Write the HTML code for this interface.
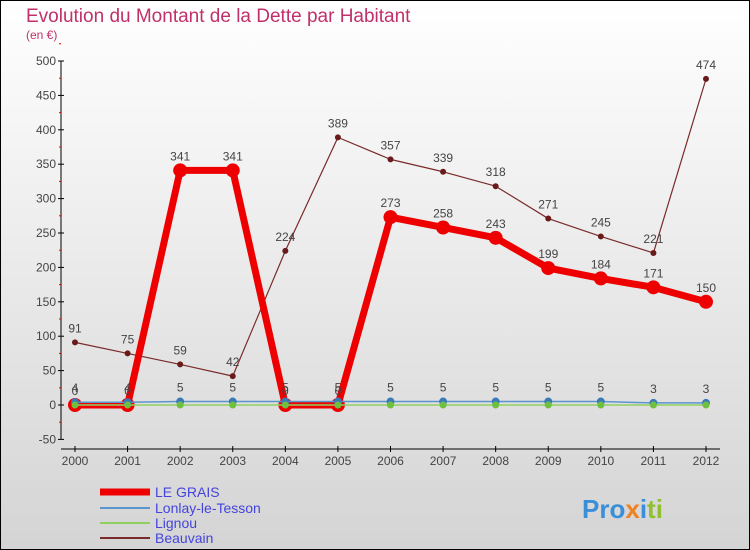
<!DOCTYPE html>
<html><head><meta charset="utf-8"><style>
body{margin:0}
svg{display:block;font-family:"Liberation Sans",sans-serif}
</style></head><body>
<svg id="c" width="750" height="550">
<defs><linearGradient id="bg" x1="0" y1="0" x2="0" y2="1"><stop offset="0" stop-color="#ffffff"/><stop offset="1" stop-color="#d4d4d4"/></linearGradient></defs>
<rect x="0.5" y="0.5" width="749" height="549" fill="url(#bg)" stroke="#000"/>
<text x="26" y="22" font-size="19" fill="#c0306a">Evolution du Montant de la Dette par Habitant</text>
<text x="26" y="39" font-size="12" fill="#c0306a">(en €)</text>
<g id="axes"></g><g id="series"></g>
<g>
<line x1="100" y1="492" x2="150" y2="492" stroke="#e00" stroke-width="7"/>
<text x="155" y="497" font-size="14" fill="#4444dd">LE GRAIS</text>
<line x1="100" y1="508" x2="150" y2="508" stroke="#5a95d0" stroke-width="2"/>
<text x="155" y="513" font-size="14" fill="#4444dd">Lonlay-le-Tesson</text>
<line x1="100" y1="523" x2="150" y2="523" stroke="#90d060" stroke-width="2"/>
<text x="155" y="528" font-size="14" fill="#4444dd">Lignou</text>
<line x1="100" y1="538" x2="150" y2="538" stroke="#7a2a2a" stroke-width="2"/>
<text x="155" y="543" font-size="14" fill="#4444dd">Beauvain</text>
</g>
<text x="582" y="518" font-size="26" font-weight="bold"><tspan fill="#3a8fd8">Pro</tspan><tspan fill="#f08020">x</tspan><tspan fill="#3a8fd8">i</tspan><tspan fill="#90c030">ti</tspan></text>
</svg>
<script>
const years=[2000,2001,2002,2003,2004,2005,2006,2007,2008,2009,2010,2011,2012];
const grais=[0,0,341,341,0,0,273,258,243,199,184,171,150];
const lonlay=[4,4,5,5,5,5,5,5,5,5,5,3,3];
const lignou=[0,0,0,0,0,0,0,0,0,0,0,0,0];
const beauvain=[91,75,59,42,224,389,357,339,318,271,245,221,474];
const yTicks=[-50,0,50,100,150,200,250,300,350,400,450,500];
const NS="http://www.w3.org/2000/svg";
const X=i=>75+i*(706-75)/12;
const Y=v=>405-v*(405-61)/500;
function el(t,a,p){const e=document.createElementNS(NS,t);for(const k in a)e.setAttribute(k,a[k]);p.appendChild(e);return e;}
const ax=document.getElementById('axes'),sg=document.getElementById('series');
const yl=el('line',{x1:61,y1:Y(500),x2:61,y2:Y(-50),stroke:'#000'},ax);


yTicks.forEach(v=>{
 el('line',{x1:58,x2:64,y1:Y(v),y2:Y(v),stroke:'#000'},ax);
 el('line',{x1:59,x2:61,y1:Y(v+25),y2:Y(v+25),stroke:'#e00'},ax);
 const t=el('text',{x:56,y:Y(v)+4,'font-size':12,fill:'#444','text-anchor':'end'},ax);
 t.textContent=v;
 
 
});
const xl=el('line',{x1:61,y1:449,x2:720,y2:449,stroke:'#000'},ax);


years.forEach((y,i)=>{
 el('line',{x1:X(i),x2:X(i),y1:446,y2:452,stroke:'#000'},ax);
 const t=el('text',{x:X(i),y:465,'font-size':12,fill:'#444','text-anchor':'middle'},ax);
 t.textContent=y;
 
 
});
function series(d,name,color,w,r,labels,dotFill){
 const g=el('g',{},sg);
 
 
 el('polyline',{points:d.map((v,i)=>X(i)+','+Y(v)).join(' '),fill:'none',stroke:color,'stroke-width':w,'stroke-linejoin':'round'},g);
 d.forEach((v,i)=>{
  const c=el('circle',{cx:X(i),cy:Y(v),r:r,fill:dotFill||color},g);
  
  
  if(labels){const t=el('text',{x:X(i),y:Y(v)-10,'font-size':12,fill:'#444','text-anchor':'middle'},g);t.textContent=v;
   
   }
 });
}
series(beauvain,'beauvain','#7a2a2a',1.2,3,true,'#6a1a1a');
series(grais,'le-grais','#e00',7,7,true);
series(lonlay,'lonlay','#5a95d0',1.5,4,true,'#3a7ab8');
series(lignou,'lignou','#90d060',1.5,3.5,false,'#70c040');
</script>
</body></html>
